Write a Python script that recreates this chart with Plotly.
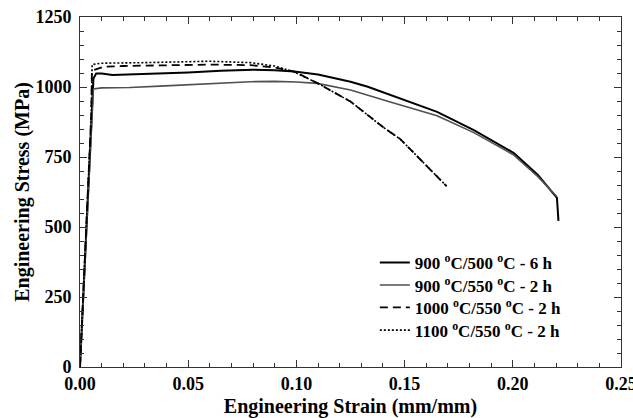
import plotly.graph_objects as go

# Data (strain in mm/mm, stress in MPa)
strain_900_500 = [0, 0.0045, 0.0055, 0.0062, 0.0075, 0.010, 0.015, 0.025, 0.037, 0.05, 0.065, 0.08, 0.09, 0.099, 0.11, 0.125, 0.133, 0.148, 0.165, 0.182, 0.2005, 0.2116, 0.2204, 0.2211]
stress_900_500 = [0, 760, 950, 1030, 1048, 1048, 1043, 1045, 1047, 1052, 1058, 1062, 1060, 1055, 1045, 1019, 1001, 960, 911, 846, 764, 686, 604, 522]

strain_900_550 = [0, 0.0045, 0.0055, 0.0062, 0.010, 0.023, 0.037, 0.05, 0.065, 0.0787, 0.09, 0.10, 0.1097, 0.125, 0.1426, 0.148, 0.165, 0.182, 0.2005, 0.2116, 0.2204]
stress_900_550 = [0, 740, 930, 993, 997, 998, 1003, 1008, 1014, 1019, 1020, 1018, 1013, 989, 948, 936, 897, 837, 757, 680, 608]

strain_1000_550 = [0, 0.0045, 0.0052, 0.0055, 0.0107, 0.02, 0.037, 0.06, 0.0787, 0.09, 0.099, 0.1097, 0.125, 0.14, 0.148, 0.156, 0.165, 0.1694]
stress_1000_550 = [0, 760, 900, 1058, 1072, 1075, 1076, 1080, 1078, 1070, 1055, 1014, 948, 857, 814, 750, 679, 646]

strain_1100_550 = [0, 0.0045, 0.0052, 0.0056, 0.010, 0.03, 0.06, 0.0787, 0.09, 0.0986, 0.1097, 0.125, 0.14, 0.148, 0.156, 0.165, 0.1694]
stress_1100_550 = [0, 760, 900, 1080, 1085, 1087, 1092, 1087, 1075, 1055, 1014, 948, 857, 814, 750, 679, 646]

series_names = [
    "900 <sup>o</sup>C/500 <sup>o</sup>C - 6 h",
    "900 <sup>o</sup>C/550 <sup>o</sup>C - 2 h",
    "1000 <sup>o</sup>C/550 <sup>o</sup>C - 2 h",
    "1100 <sup>o</sup>C/550 <sup>o</sup>C - 2 h",
]

x_tick_vals = [0, 0.05, 0.10, 0.15, 0.20, 0.25]
x_tick_text = ["0.00", "0.05", "0.10", "0.15", "0.20", "0.25"]
y_tick_vals = [0, 250, 500, 750, 1000, 1250]

FONT = "Liberation Serif"

fig = go.Figure()
fig.add_trace(go.Scatter(x=strain_900_500, y=stress_900_500, mode="lines", name=series_names[0],
                         line=dict(color="#000000", width=2), legend="legend"))
fig.add_trace(go.Scatter(x=strain_900_550, y=stress_900_550, mode="lines", name=series_names[1],
                         line=dict(color="#505050", width=1.6), legend="legend2"))
fig.add_trace(go.Scatter(x=strain_1000_550, y=stress_1000_550, mode="lines", name=series_names[2],
                         line=dict(color="#000000", width=1.8, dash="8px,5px"), legend="legend3"))
fig.add_trace(go.Scatter(x=strain_1100_550, y=stress_1100_550, mode="lines", name=series_names[3],
                         line=dict(color="#000000", width=1.6, dash="2px,2px"), legend="legend4"))

axis_common = dict(
    showgrid=False, zeroline=False, showline=True, linecolor="#333333", linewidth=1,
    mirror="ticks", ticks="inside", ticklen=7, tickcolor="#333333", tickwidth=1,
    tickfont=dict(family=FONT, size=18, color="black", weight="bold"),
    automargin=False, ticklabeloverflow="allow",
)

fig.update_xaxes(
    range=[0, 0.25], tickvals=x_tick_vals, ticktext=x_tick_text,
    minor=dict(ticks="inside", ticklen=4, dtick=0.01, tickcolor="#333333", showgrid=False),
    title=dict(text="<b>Engineering Strain (mm/mm)</b>", font=dict(family=FONT, size=20, color="black"), standoff=15),
    ticklabelstandoff=0,
    **axis_common,
)
fig.update_yaxes(
    range=[0, 1250], tickvals=y_tick_vals,
    minor=dict(ticks="inside", ticklen=4, dtick=50, tickcolor="#333333", showgrid=False),
    title=dict(text="<b>Engineering Stress (MPa)</b>", font=dict(family=FONT, size=20, color="black"), standoff=0),
    ticklabelstandoff=4,
    **axis_common,
)

legend_style = dict(x=0.545, xanchor="left", yanchor="middle", bgcolor="rgba(0,0,0,0)",
                    font=dict(family=FONT, size=17, color="black", weight="bold"))

fig.update_layout(
    width=633, height=418,
    margin=dict(l=80, r=12, t=17, b=51),
    plot_bgcolor="white", paper_bgcolor="white",
    font=dict(family=FONT, size=17, color="black"),
    legend=dict(y=0.297, **legend_style),
    legend2=dict(y=0.233, **legend_style),
    legend3=dict(y=0.169, **legend_style),
    legend4=dict(y=0.104, **legend_style),
    showlegend=True,
)

fig.write_html("out.html", config={"displayModeBar": False},
               post_script="document.body.style.margin='0';document.body.style.padding='0';")
